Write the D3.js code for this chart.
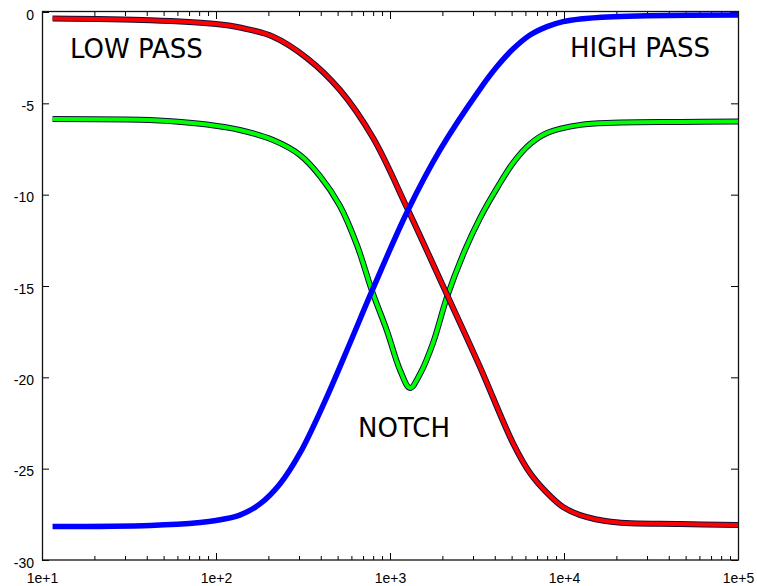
<!DOCTYPE html>
<html>
<head>
<meta charset="utf-8">
<script src="https://cdn.jsdelivr.net/npm/d3@7"></script>
<style>
  body { margin: 0; background: #fff; }
  .tick-label text { font-family: "Liberation Sans", Arial, sans-serif; font-size: 14px; fill: #000; }
  .curve-label { font-family: "DejaVu Sans", sans-serif; font-size: 26px; fill: #000; }
  .axis path.domain { display: none; }
  .axis line { stroke: #000; stroke-width: 1; }
</style>
</head>
<body>
<div id="chart"></div>
<script>
// Filter response chart: low pass, high pass and notch, gain in dB vs frequency (log).

const width = 757;
const height = 586;

// low pass (red): frequency in Hz, gain in dB
const lowPassFreq = [11.5, 42, 100, 137, 213, 333, 516, 800, 1270, 2130, 3290, 5090, 6380, 7990,
  9870, 12400, 19100, 46400, 100000];
const lowPassDb = [-0.36, -0.45, -0.66, -0.85, -1.35, -2.52, -4.27, -6.9, -10.84, -15.49, -19.43,
  -23.6, -25.24, -26.33, -27.1, -27.54, -27.92, -28.03, -28.08];

// high pass (blue)
const highPassFreq = [11.5, 42, 81, 100, 137, 179, 233, 304, 423, 589, 788, 1270, 1939, 3290,
  4120, 5090, 6380, 7990, 9870, 12400, 19100, 30000, 100000];
const highPassDb = [-28.17, -28.11, -27.95, -27.84, -27.54, -26.93, -25.84, -24.14, -21.3, -18.12,
  -15.27, -10.84, -7.55, -4.22, -2.99, -2.03, -1.26, -0.8, -0.53, -0.38, -0.26, -0.2, -0.16];

// notch (green)
const notchFreq = [11.5, 36.6, 58.1, 88.8, 137, 213, 304, 396, 516, 646, 788, 961, 1141, 1303,
  1487, 1767, 2126, 2698, 3290, 4120, 5090, 6380, 7990, 12400, 19100, 46400, 100000];
const notchDb = [-5.86, -5.9, -5.99, -6.16, -6.46, -7.01, -7.83, -8.98, -10.62, -12.76, -15.27,
  -17.46, -19.6, -20.58, -19.82, -18.12, -15.6, -13.03, -11.28, -9.64, -8.27, -7.23, -6.62,
  -6.18, -6.06, -6.02, -6.0];

const xTickValues = [1e1, 1e2, 1e3, 1e4, 1e5];
const xTickLabels = ["1e+1", "1e+2", "1e+3", "1e+4", "1e+5"];
const yTickValues = [0, -5, -10, -15, -20, -25, -30];

const labels = [
  { text: "LOW PASS", f: 14.5, db: -2.52 },
  { text: "HIGH PASS", f: 10830, db: -2.46 },
  { text: "NOTCH", f: 655, db: -23.27 }
];

const svg = d3.select("#chart")
  .append("svg")
  .attr("width", width)
  .attr("height", height);

const xScale = d3.scaleLog()
  .domain([1e1, 1e5])
  .range([42, 738]);

const yScale = d3.scaleLinear()
  .domain([-30, 0])
  .range([560, 12]);

const minorTicks = [];
[1e1, 1e2, 1e3, 1e4].forEach(dec => {
  for (let k = 2; k <= 9; k++) minorTicks.push(dec * k);
});

// minor ticks, bottom and top, pointing inward
svg.append("g")
  .attr("class", "axis")
  .attr("transform", `translate(0, ${yScale(-30)})`)
  .call(d3.axisBottom(xScale).tickValues(minorTicks).tickSizeInner(-4).tickSizeOuter(0).tickFormat(""));

svg.append("g")
  .attr("class", "axis")
  .attr("transform", `translate(0, ${yScale(0)})`)
  .call(d3.axisTop(xScale).tickValues(minorTicks).tickSizeInner(-4).tickSizeOuter(0).tickFormat(""));

// major x ticks with labels
svg.append("g")
  .attr("class", "axis tick-label")
  .attr("transform", `translate(0, ${yScale(-30)})`)
  .call(d3.axisBottom(xScale).tickValues(xTickValues).tickSizeInner(-7).tickSizeOuter(0)
    .tickPadding(13).tickFormat((d, i) => xTickLabels[i]));

svg.append("g")
  .attr("class", "axis")
  .attr("transform", `translate(0, ${yScale(0)})`)
  .call(d3.axisTop(xScale).tickValues(xTickValues).tickSizeInner(-7).tickSizeOuter(0).tickFormat(""));

// y ticks, left with labels, right plain
const yLeft = svg.append("g")
  .attr("class", "axis tick-label")
  .attr("transform", `translate(${xScale(1e1)}, 0)`)
  .call(d3.axisLeft(yScale).tickValues(yTickValues).tickSizeInner(-7).tickSizeOuter(0)
    .tickPadding(8).tickFormat(d => String(d)));
yLeft.selectAll("text").attr("dy", "0.5em");

svg.append("g")
  .attr("class", "axis")
  .attr("transform", `translate(${xScale(1e5)}, 0)`)
  .call(d3.axisRight(yScale).tickValues(yTickValues).tickSizeInner(-7).tickSizeOuter(0).tickFormat(""));

// frame
svg.append("rect")
  .attr("x", xScale(1e1) + 0.5)
  .attr("y", yScale(0) - 0.5)
  .attr("width", xScale(1e5) - xScale(1e1))
  .attr("height", yScale(-30) - yScale(0) + 0.5)
  .attr("fill", "none")
  .attr("stroke", "#111")
  .attr("stroke-width", 1.3);

const lineGenerator = d3.line()
  .x(d => xScale(d.f))
  .y(d => yScale(d.db))
  .curve(d3.curveCatmullRom.alpha(0.5));

const series = [
  { name: "notch", freq: notchFreq, db: notchDb, color: "#00ff00", outline: true },
  { name: "low", freq: lowPassFreq, db: lowPassDb, color: "#ff0000", outline: true },
  { name: "high", freq: highPassFreq, db: highPassDb, color: "#0000ff", outline: false }
];

series.forEach(s => {
  const pts = s.freq.map((f, i) => ({ f: f, db: s.db[i] }));
  if (s.outline) {
    svg.append("path")
      .datum(pts)
      .attr("fill", "none")
      .attr("stroke", "#10103a")
      .attr("stroke-width", 6)
      .attr("d", lineGenerator);
    svg.append("path")
      .datum(pts)
      .attr("fill", "none")
      .attr("stroke", s.color)
      .attr("stroke-width", 4)
      .attr("d", lineGenerator);
  } else {
    svg.append("path")
      .datum(pts)
      .attr("fill", "none")
      .attr("stroke", s.color)
      .attr("stroke-width", 5.5)
      .attr("d", lineGenerator);
  }
});

svg.selectAll(".curve-label")
  .data(labels)
  .join("text")
  .attr("class", "curve-label")
  .attr("x", d => xScale(d.f))
  .attr("y", d => yScale(d.db))
  .text(d => d.text);
</script>
</body>
</html>
